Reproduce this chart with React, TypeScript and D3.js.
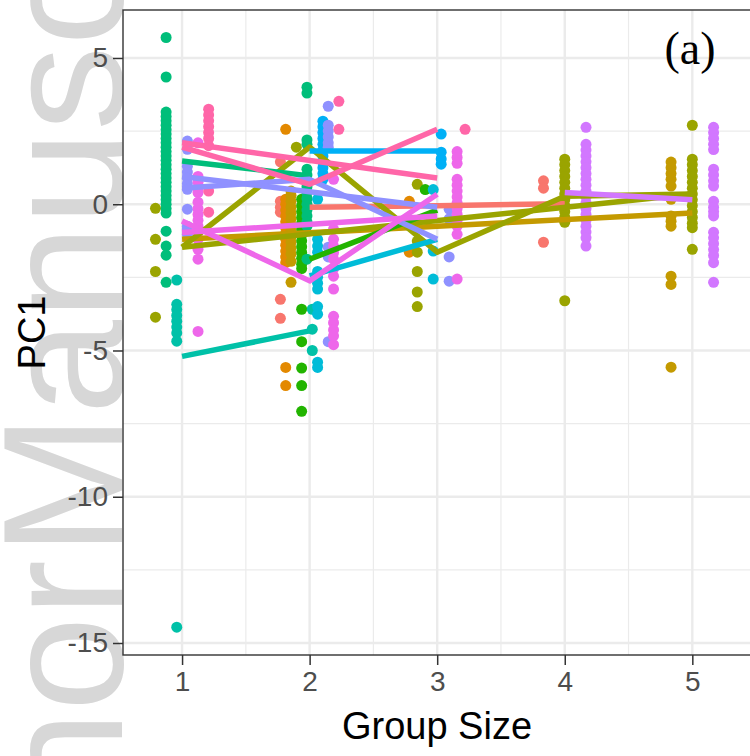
import * as d3 from "d3";
import { useEffect, useRef } from "react";

// group colours (ggplot hue palette, as seen in the picture)
const groupColors = {
  salmon: "#F8766D",
  orange: "#E38900",
  gold: "#C49A00",
  olive: "#9AA400",
  green: "#22B400",
  tealGreen: "#00BE7A",
  teal: "#00C1A8",
  cyan: "#00BCD8",
  blue: "#00B0F6",
  periwinkle: "#8F91FF",
  violet: "#D277FF",
  magenta: "#EE67EA",
  pink: "#FF66A8",
};
const groupOrder = Object.keys(groupColors);

const xTicks = [1, 2, 3, 4, 5];
const yTicks = [-15, -10, -5, 0, 5];
const xMinor = [1.5, 2.5, 3.5, 4.5];
const yMinor = [-12.5, -7.5, -2.5, 2.5];

// PC1 values per group size, one object per group
const salmonPts = { 2: [1.45, 0.1, -0.1, -0.27, -3.25, -3.9], 4: [0.8, 0.55, -1.3] };
const orangePts = {
  2: [2.56, 0.17, 0.0, -0.2, -0.4, -0.6, -0.8, -1.0, -1.2, -1.4, -1.6, -1.8, -2.0, -5.58, -6.2],
  3: [0.1, -1.64],
};
const goldPts = {
  2: [0.45, 0.3, 0.1, -0.1, -0.3, -0.5, -0.7, -0.9, -1.1, -1.3, -1.5, -1.7, -1.95, -2.67],
  5: [1.44, 1.25, 1.05, 0.85, 0.62, 0.17, -0.4, -0.58, -0.75, -2.46, -2.74, -5.57],
};
const olivePts = {
  1: [-0.14, -1.2, -2.3, -3.86],
  2: [1.95],
  3: [0.68, -1.26, -1.64, -2.3, -3.0, -3.5],
  4: [1.54, 1.35, 1.15, 0.95, 0.75, 0.55, 0.35, 0.15, -0.05, -0.25, -0.45, -0.62, -3.3],
  5: [2.7, 1.54, 1.35, 1.15, 0.95, 0.75, 0.55, 0.35, 0.15, -0.05, -0.25, -0.45, -0.65, -0.8, -1.54],
};
const greenPts = {
  2: [0.17, -0.05, -0.25, -0.45, -0.65, -0.85, -1.05, -1.25, -1.45, -1.65, -1.85, -2.05, -2.2, -3.59, -4.7, -5.6, -6.2, -7.08],
  3: [0.5],
};
const tealGreenPts = {
  1: [5.7, 4.35, 3.15, 3.0, 2.85, 2.7, 2.55, 2.4, 2.25, 2.1, 1.95, 1.8, 1.65, 1.5, 1.35, 1.2, 1.05, 0.9, 0.75, 0.6, 0.45, 0.3, 0.15, 0.0, -0.15, -0.3, -0.92, -1.43, -1.74, -2.67],
  2: [4.0, 3.8, 2.2, 2.05, 1.2, 1.0, 0.6, 0.4, 0.2, 0.0, -0.2, -0.4, -0.6, -0.75, -1.88],
};
const tealPts = {
  1: [-2.59, -3.42, -3.6, -3.8, -4.0, -4.2, -4.4, -4.68, -14.46],
  2: [-3.59, -4.27, -5.0],
};
const cyanPts = {
  2: [0.17, -1.2, -1.43, -1.64, -2.3, -2.5, -2.7, -2.9, -3.5, -3.76, -5.4, -5.58],
  3: [0.5, -1.6, -2.56],
};
const bluePts = {
  2: [2.84, 2.65, 2.45, 2.25, 2.05, 1.85, 1.65, 1.45, 1.25, 1.05, 0.85],
  3: [2.4, 1.78, 1.55, 1.37],
};
const periwinklePts = {
  1: [2.16, 1.88, 1.3, 1.1, 0.9, 0.7, 0.51, -0.17, -0.75, -0.85, -1.03],
  2: [3.35, 2.7, 2.5, 2.3, 2.1, 1.95, -1.47, -1.8, -4.7],
  3: [-0.17, -0.5, -1.8, -2.63],
};
const violetPts = {
  4: [2.63, 2.05, 1.85, 1.65, 1.45, 1.25, 1.05, 0.85, 0.65, 0.45, 0.25, 0.05, -0.15, -0.35, -0.55, -0.75, -0.95, -1.15, -1.43],
  5: [2.63, 2.45, 2.25, 2.05, 1.87, 1.2, 1.0, 0.8, 0.62, 0.1, -0.1, -0.25, -0.4, -0.96, -1.15, -1.35, -1.55, -1.75, -2.0, -2.67],
};
const magentaPts = {
  1: [2.1, 0.95, 0.75, 0.55, 0.4, 0.07, -0.15, -0.35, -0.55, -0.75, -0.97, -1.2, -1.54, -1.88, -4.35],
  2: [0.85, -0.85, -1.2, -1.43, -1.65, -1.88, -2.2, -2.46, -2.9, -3.83, -4.05, -4.3, -4.5, -4.8],
  3: [1.8, 1.6, 1.4, 0.85, 0.65, 0.45, 0.25, 0.05, -0.15, -0.35, -0.55, -0.75, -1.03, -2.56],
};
const pinkPts = {
  1: [3.25, 3.05, 2.85, 2.65, 2.45, 2.25, 2.0, 0.45, -0.27],
  2: [3.52, 2.56],
  3: [2.56],
};

// trend lines: [group size, PC1]
const trendLines = [
  { g: "salmon", pts: [[2, -0.1], [3, -0.05], [4, 0.02]] },
  { g: "gold", pts: [[1, -1.2], [5, -0.3]] },
  { g: "olive", pts: [[1, -1.47], [2, 1.95], [3, -1.64], [4, 0.27], [5, 0.35]] },
  { g: "olive", pts: [[1, -1.47], [5, 0.35]] },
  { g: "green", pts: [[2, -1.88], [3, -0.2]] },
  { g: "tealGreen", pts: [[1, 1.48], [2, 0.97]] },
  { g: "teal", pts: [[1, -5.2], [2, -4.33]] },
  { g: "cyan", pts: [[2, -2.45], [3, -1.2]] },
  { g: "blue", pts: [[2, 1.82], [3, 1.82]] },
  { g: "periwinkle", pts: [[1, 0.55], [2, 0.85], [3, -1.2]] },
  { g: "periwinkle", pts: [[1, 0.95], [3, -0.1]] },
  { g: "violet", pts: [[4, 0.4], [5, 0.15]] },
  { g: "magenta", pts: [[1, -0.57], [2, -2.62], [3, 0.34]] },
  { g: "magenta", pts: [[1, -0.97], [3, -0.4]] },
  { g: "pink", pts: [[1, 1.95], [2, 0.68], [3, 2.56]] },
  { g: "pink", pts: [[1, 2.1], [3, 0.9]] },
];

const groupPoints = {
  salmon: salmonPts,
  orange: orangePts,
  gold: goldPts,
  olive: olivePts,
  green: greenPts,
  tealGreen: tealGreenPts,
  teal: tealPts,
  cyan: cyanPts,
  blue: bluePts,
  periwinkle: periwinklePts,
  violet: violetPts,
  magenta: magentaPts,
  pink: pinkPts,
};

const W = 750;
const H = 756;
const panel = { left: 123, right: 751, top: 10, bottom: 655 };
const DODGE = 0.5;
const SANS = "Liberation Sans, Arial, sans-serif";

const App = () => {
  const svgRef = useRef(null);

  useEffect(() => {
    const svg = d3.select(svgRef.current);
    svg.selectAll("*").remove();

    const x = d3.scaleLinear().domain([0.537, 5.46]).range([panel.left, panel.right]);
    const y = d3.scaleLinear().domain([-15.41, 6.64]).range([panel.bottom, panel.top]);

    // watermark, reads bottom to top
    const wm = svg
      .append("g")
      .attr("font-family", SANS)
      .attr("font-size", 170)
      .attr("fill", "#d7d7d7");
    wm.append("text")
      .attr("transform", "translate(122, 556) rotate(-90)")
      .text("Manuscript");
    wm.append("text")
      .attr("transform", "translate(122, 560) rotate(-90)")
      .attr("text-anchor", "end")
      .text("Author");

    const gPanel = svg.append("g");

    gPanel
      .append("rect")
      .attr("x", panel.left)
      .attr("y", panel.top)
      .attr("width", panel.right - panel.left)
      .attr("height", panel.bottom - panel.top)
      .attr("fill", "white");

    // grid
    gPanel
      .selectAll(".vminor")
      .data(xMinor)
      .join("line")
      .attr("x1", (d) => x(d))
      .attr("x2", (d) => x(d))
      .attr("y1", panel.top)
      .attr("y2", panel.bottom)
      .attr("stroke", "#EBEBEB")
      .attr("stroke-width", 1.2);
    gPanel
      .selectAll(".hminor")
      .data(yMinor)
      .join("line")
      .attr("x1", panel.left)
      .attr("x2", panel.right)
      .attr("y1", (d) => y(d))
      .attr("y2", (d) => y(d))
      .attr("stroke", "#EBEBEB")
      .attr("stroke-width", 1.2);
    gPanel
      .selectAll(".vmajor")
      .data(xTicks)
      .join("line")
      .attr("x1", (d) => x(d))
      .attr("x2", (d) => x(d))
      .attr("y1", panel.top)
      .attr("y2", panel.bottom)
      .attr("stroke", "#EBEBEB")
      .attr("stroke-width", 2.4);
    gPanel
      .selectAll(".hmajor")
      .data(yTicks)
      .join("line")
      .attr("x1", panel.left)
      .attr("x2", panel.right)
      .attr("y1", (d) => y(d))
      .attr("y2", (d) => y(d))
      .attr("stroke", "#EBEBEB")
      .attr("stroke-width", 2.4);

    // points, dodged within each group size
    const pointData = [];
    xTicks.forEach((lvl) => {
      const present = groupOrder.filter((g) => groupPoints[g][lvl]);
      const n = present.length;
      present.forEach((g, i) => {
        const xd = lvl + (i - (n - 1) / 2) * (DODGE / n);
        groupPoints[g][lvl].forEach((v) => pointData.push({ g, x: xd, y: v }));
      });
    });

    gPanel
      .selectAll("circle")
      .data(pointData)
      .join("circle")
      .attr("cx", (d) => x(d.x))
      .attr("cy", (d) => y(d.y))
      .attr("r", 5.5)
      .attr("fill", (d) => groupColors[d.g]);

    const line = d3
      .line()
      .x((d) => x(d[0]))
      .y((d) => y(d[1]));

    const sortedLines = [...trendLines].sort(
      (a, b) => groupOrder.indexOf(a.g) - groupOrder.indexOf(b.g)
    );
    gPanel
      .selectAll(".trend")
      .data(sortedLines)
      .join("path")
      .attr("fill", "none")
      .attr("stroke", (d) => groupColors[d.g])
      .attr("stroke-width", 5.5)
      .attr("stroke-linejoin", "round")
      .attr("d", (d) => line(d.pts));

    // border
    gPanel
      .append("rect")
      .attr("x", panel.left)
      .attr("y", panel.top)
      .attr("width", panel.right - panel.left)
      .attr("height", panel.bottom - panel.top)
      .attr("fill", "none")
      .attr("stroke", "#333333")
      .attr("stroke-width", 1.4);

    // axes
    const yAxis = svg
      .append("g")
      .attr("transform", `translate(${panel.left},0)`)
      .call(d3.axisLeft(y).tickValues(yTicks).tickSize(10).tickPadding(5));
    const xAxis = svg
      .append("g")
      .attr("transform", `translate(0,${panel.bottom})`)
      .call(d3.axisBottom(x).tickValues(xTicks).tickSize(10).tickPadding(6));

    [yAxis, xAxis].forEach((a) => {
      a.select(".domain").remove();
      a.selectAll(".tick line").attr("stroke", "#333333").attr("stroke-width", 1.5);
      a.selectAll(".tick text")
        .attr("fill", "#4D4D4D")
        .attr("font-size", 28)
        .attr("font-family", SANS)
        .text((d) => (d < 0 ? "-" + Math.abs(d) : String(d)));
    });

    svg
      .append("text")
      .attr("x", (panel.left + panel.right) / 2)
      .attr("y", 739)
      .attr("text-anchor", "middle")
      .attr("font-size", 38)
      .attr("font-family", SANS)
      .attr("fill", "black")
      .text("Group Size");

    svg
      .append("text")
      .attr("transform", `translate(45, ${(panel.top + panel.bottom) / 2}) rotate(-90)`)
      .attr("text-anchor", "middle")
      .attr("font-size", 38)
      .attr("font-family", SANS)
      .attr("fill", "black")
      .text("PC1");

    svg
      .append("text")
      .attr("x", 690)
      .attr("y", 64)
      .attr("text-anchor", "middle")
      .attr("font-size", 46)
      .attr("font-family", "Liberation Serif, Times New Roman, serif")
      .attr("fill", "black")
      .text("(a)");
  }, []);

  return (
    <div style={{ position: "absolute", left: 0, top: 0 }}>
      <svg ref={svgRef} width={W} height={H} style={{ display: "block", background: "white" }} />
    </div>
  );
};

export default App;
